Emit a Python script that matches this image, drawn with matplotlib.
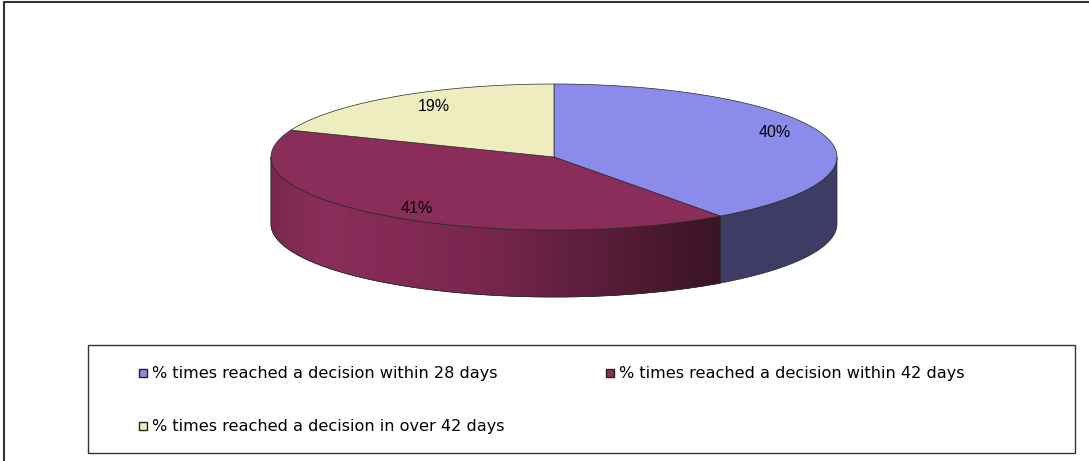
import numpy as np
import matplotlib.pyplot as plt
from matplotlib.patches import Polygon, Rectangle
from matplotlib.colors import LinearSegmentedColormap

# Data
labels = ['% times reached a decision within 28 days',
          '% times reached a decision within 42 days',
          '% times reached a decision in over 42 days']
values = [40, 41, 19]
top_colors = ['#8b8beb', '#8b2d5a', '#eeedc0']
side_colors = ['#3c3c64', '#8b2d5a', '#b8b78f']

# pie geometry (pixel space, y downward)
cx, cy = 554, 157
rx, ry = 283, 73
depth = 67

fig = plt.figure(figsize=(10.89, 4.61), dpi=100)
ax = fig.add_axes([0, 0, 1, 1])
ax.set_xlim(0, 1089)
ax.set_ylim(461, 0)
ax.axis('off')


def ell(theta, dy=0):
    # theta in degrees, measured clockwise from 12 o'clock
    t = np.radians(theta)
    return np.column_stack([cx + rx * np.sin(t), cy - ry * np.cos(t) + dy])


bounds = np.concatenate([[0], np.cumsum(values)]) / sum(values) * 360

# side walls (front half only: 90..270 deg)
for i in range(len(values)):
    a0 = max(bounds[i], 90)
    a1 = min(bounds[i + 1], 270)
    if a1 <= a0:
        continue
    th = np.linspace(a0, a1, 100)
    pts = np.vstack([ell(th), ell(th[::-1], depth)])
    poly = Polygon(pts, closed=True, facecolor=side_colors[i],
                   edgecolor='#2a2a2a', lw=0.5, zorder=2)
    ax.add_patch(poly)
    if i == 1:
        # shaded gradient across the maroon wall
        xs = pts[:, 0]
        grad = np.linspace(0, 1, 256).reshape(1, -1)
        cmap = LinearSegmentedColormap.from_list(
            'wall', [(0.0, '#7a2850'), (0.12, '#8b2d5a'),
                     (0.45, '#7a2750'), (1.0, '#3a1424')])
        im = ax.imshow(grad, cmap=cmap, aspect='auto',
                       extent=[xs.min(), xs.max(), cy + ry + depth + 2, cy - 2],
                       zorder=2.5)
        im.set_clip_path(poly)
        ax.add_patch(Polygon(pts, closed=True, facecolor='none',
                             edgecolor='#2a2a2a', lw=0.5, zorder=3))

# top faces
for i in range(len(values)):
    th = np.linspace(bounds[i], bounds[i + 1], 200)
    pts = np.vstack([[cx, cy], ell(th)])
    ax.add_patch(Polygon(pts, closed=True, facecolor=top_colors[i],
                         edgecolor='#2a2a2a', lw=0.5, zorder=4))

# percentage labels
label_pos = [(775, 132), (417, 208), (434, 106)]
for v, (lx, ly) in zip(values, label_pos):
    ax.text(lx, ly, f'{v}%', ha='center', va='center', fontsize=11.5,
            family='Liberation Sans', color='black', zorder=5)

# outer chart border
ax.plot([4, 4, 1089], [461, 2.5, 2.5], color='#333333', lw=1.5,
        solid_capstyle='butt', zorder=1)

# legend box
ax.add_patch(Rectangle((88, 345), 987, 108, facecolor='white',
                       edgecolor='#333333', lw=1.0, zorder=1))
leg_pos = [(143, 373), (610, 373), (143, 426)]
for i, (lx, ly) in enumerate(leg_pos):
    ax.add_patch(Rectangle((lx - 4, ly - 4), 8, 8, facecolor=top_colors[i],
                           edgecolor='#222222', lw=1.0, zorder=2))
    ax.text(lx + 9, ly, labels[i], ha='left', va='center', fontsize=11.6,
            family='DejaVu Sans', color='black', zorder=2)

fig.savefig('out.png', dpi=100)
